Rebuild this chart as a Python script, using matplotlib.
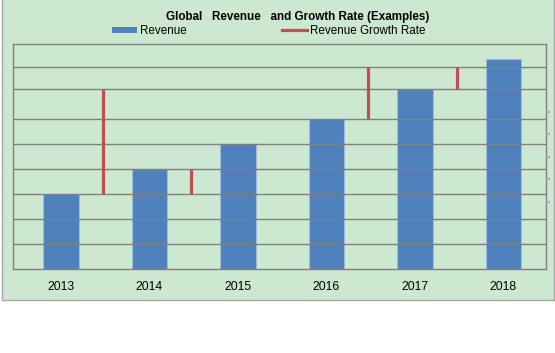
import numpy as np
import matplotlib
matplotlib.use("Agg")
import matplotlib.pyplot as plt
from matplotlib.patches import Rectangle

plt.rcParams['font.family'] = ['Liberation Sans', 'DejaVu Sans']

## datos
years = ["2013", "2014", "2015", "2016", "2017", "2018"]
revenue = [3.0, 4.0, 5.0, 6.0, 7.2, 8.4]
# growth rate drawn as vertical strokes between years (low, high)
growth_pos = [0, 1, 3, 4]
growth_low = [3.0, 3.0, 6.0, 7.2]
growth_high = [7.2, 4.0, 8.08, 8.08]
grid_levels = [1, 2, 3, 4, 5, 6, 7.2, 8.08]
right_ticks = [3, 4, 5, 6, 7]

bg = "#cde8d0"
blue = "#4f81bd"
red = "#c0504d"
grey = "#808080"

W, H = 555, 353
fig = plt.figure(figsize=(W / 100, H / 100), dpi=100)
fig.patches.append(Rectangle((1.5 / W, 1 - 300 / H), 552.5 / W, 300 / H + 0.01,
                             transform=fig.transFigure, facecolor=bg,
                             edgecolor="#a6a6a6", lw=1.0, zorder=-5))

ax = fig.add_axes([13 / W, 1 - 269.3 / H, (546.3 - 13) / W, 225 / H])
ax.set_facecolor(bg)
x = np.arange(len(years))
ax.bar(x, revenue, width=0.4, color=blue, edgecolor="#9dbad8", linewidth=0.8,
       zorder=1, label="Revenue")
ax.vlines(np.array(growth_pos) + 0.47, growth_low, growth_high, color=red,
          lw=2.3, zorder=3)
ax.set_xlim(-0.542, 5.484)
ax.set_ylim(0, 9)
ax.set_yticks(grid_levels)
ax.set_yticklabels([])
ax.tick_params(axis="y", length=0)
ax.set_axisbelow(False)
ax.yaxis.grid(True, color=grey, lw=1.0, zorder=2)
ax.set_xticks(x)
ax.set_xticklabels(years, fontsize=8.7)
ax.tick_params(axis="x", length=0, pad=8.5)
for s in ax.spines.values():
    s.set_color(grey)
    s.set_linewidth(1.0)

ax2 = ax.twinx()
ax2.set_ylim(0, 10)
ax2.set_yticks(right_ticks)
ax2.set_yticklabels([])
ax2.tick_params(axis="y", direction="out", length=3, width=1.3, color="#aaaaaa", pad=0)
for s in ax2.spines.values():
    s.set_visible(False)

fig.text(297.5 / W, 1 - 17 / H, "Global   Revenue   and Growth Rate (Examples)",
         ha="center", va="center", fontsize=8.4, fontweight="bold")

h1 = Rectangle((0, 0), 1, 1, facecolor=blue)
h2 = plt.Line2D([0], [0], color=red, lw=2.3)
fig.legend([h1, h2], ["Revenue", "Revenue Growth Rate"], ncol=2,
           loc="center left", bbox_to_anchor=(112 / W, 1 - 31 / H),
           frameon=False, fontsize=8.4, handlelength=2.1, handleheight=0.5,
           handletextpad=0.3, columnspacing=8.2, borderpad=0, borderaxespad=0)

plt.savefig("out.png", dpi=100)
